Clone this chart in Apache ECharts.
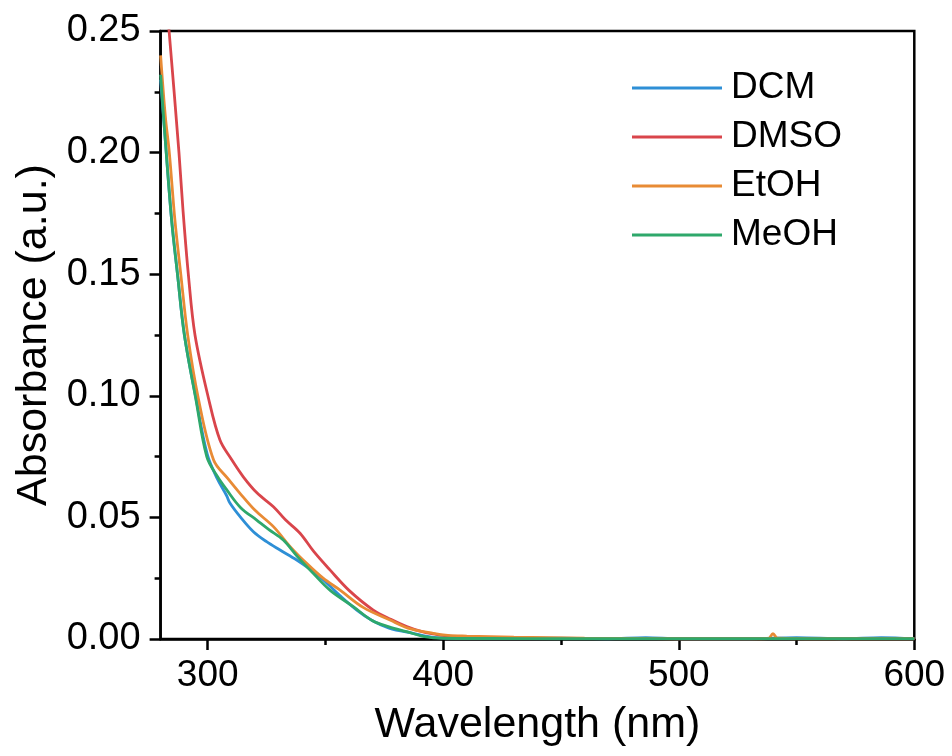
<!DOCTYPE html>
<html>
<head>
<meta charset="utf-8">
<script src="https://cdn.jsdelivr.net/npm/echarts@6/dist/echarts.min.js"></script>
<style>
html,body{margin:0;padding:0;background:#fff;}
#chart{width:952px;height:756px;}
</style>
</head>
<body>
<div id="chart"></div>
<script>
// ---- data ----
var seriesNames = ['DCM', 'DMSO', 'EtOH', 'MeOH'];

var dcmWl  = [280, 282, 284.7, 287.2, 290.1, 295, 299.8, 304, 308, 309.5, 314, 319.4, 325, 330.7, 337.8, 343, 349.1, 356, 363.3, 370, 377, 387.3, 395, 400, 410, 430, 450, 470, 486, 500, 530, 550, 570, 586, 600];
var dcmAbs = [0.230, 0.205, 0.172, 0.1497, 0.125, 0.099, 0.076, 0.066, 0.059, 0.0558, 0.050, 0.0441, 0.040, 0.0366, 0.0325, 0.029, 0.0243, 0.018, 0.0119, 0.0075, 0.0045, 0.0023, 0.0008, 0.0004, 0.0002, 0.0002, 0.0004, 0.0001, 0.0006, 0.0001, 0.0001, 0.0006, 0.0001, 0.0006, 0.0001];

var dmsoWl  = [280, 283.6, 287.8, 289.5, 291.8, 294.6, 300.3, 305.2, 310, 315.1, 321, 327.9, 333, 339.2, 345, 351.9, 360, 370.3, 378, 384.5, 391, 398.6, 405, 415, 430, 460, 500, 600];
var dmsoAbs = [0.29, 0.25, 0.200, 0.1764, 0.1497, 0.125, 0.0991, 0.0818, 0.074, 0.0667, 0.060, 0.0544, 0.049, 0.0435, 0.036, 0.0284, 0.020, 0.0119, 0.008, 0.0051, 0.003, 0.0016, 0.0010, 0.0006, 0.0004, 0.0002, 0.0001, 0.0001];

var etohWl  = [280, 282, 283.7, 286.1, 288.6, 291.5, 296, 302.5, 308.5, 313.7, 320, 327.9, 335, 342, 349, 356.2, 366, 377.4, 385, 395.8, 402, 410, 420, 430, 445, 460, 480, 500, 530, 538, 540, 542, 560, 600];
var etohAbs = [0.240, 0.215, 0.200, 0.172, 0.1497, 0.125, 0.099, 0.0736, 0.066, 0.0599, 0.053, 0.0462, 0.038, 0.0311, 0.025, 0.0201, 0.013, 0.0078, 0.0045, 0.0023, 0.0015, 0.0012, 0.0010, 0.0008, 0.0006, 0.0003, 0.0002, 0.0001, 0.0001, 0.0002, 0.0022, 0.0003, 0.0001, 0.0001];

var meohWl  = [280, 282, 284.7, 287.2, 290.1, 294.9, 299.6, 304, 308.1, 314, 320.8, 326, 332.1, 338, 344.8, 352, 361.8, 370, 377, 384.5, 392, 400, 420, 450, 500, 600];
var meohAbs = [0.232, 0.205, 0.172, 0.1497, 0.125, 0.099, 0.075, 0.067, 0.0613, 0.054, 0.0489, 0.045, 0.0407, 0.034, 0.027, 0.020, 0.0133, 0.0075, 0.005, 0.003, 0.001, 0.0003, 0.0002, 0.0001, 0.0001, 0.0001];

var xMajorTicks = [300, 400, 500, 600];
var xMinorTicks = [300, 350, 400, 450, 500, 550, 600];

var colors = ['#2e8fd6', '#d9454b', '#e88b35', '#2ea86b'];

function pairs(w, a) { return w.map(function (v, i) { return [v, a[i]]; }); }

var FONT = '"Liberation Sans", Arial, sans-serif';

var chart = echarts.init(document.getElementById('chart'), null, { renderer: 'canvas' });

var lineSeries = [
  pairs(dcmWl, dcmAbs), pairs(dmsoWl, dmsoAbs), pairs(etohWl, etohAbs), pairs(meohWl, meohAbs)
].map(function (d, i) {
  return {
    name: seriesNames[i],
    type: 'line',
    data: d,
    showSymbol: false,
    symbol: 'none',
    smooth: 0.35,
    clip: true,
    lineStyle: { width: 2.8, color: colors[i] },
    itemStyle: { color: colors[i] }
  };
});

chart.setOption({
  animation: false,
  backgroundColor: '#ffffff',
  color: colors,
  grid: {
    left: 160.6, right: 37.7, top: 31, bottom: 117,
    containLabel: false,
    outerBoundsMode: 'none',
    show: true, borderColor: '#000', borderWidth: 2.5, backgroundColor: 'transparent'
  },
  legend: {
    orient: 'vertical',
    left: 632, top: 68,
    padding: 0,
    icon: 'rect',
    itemWidth: 90, itemHeight: 3,
    itemGap: 9,
    data: seriesNames,
    textStyle: { fontFamily: FONT, fontSize: 37, color: '#000', lineHeight: 40, padding: [0, 0, 0, 4] }
  },
  xAxis: [{
    type: 'value', min: 280, max: 600,
    name: 'Wavelength (nm)', nameLocation: 'middle', nameGap: 65,
    nameTextStyle: { fontFamily: FONT, fontSize: 43, color: '#000' },
    axisLine: { show: true, lineStyle: { color: '#000', width: 2.5 } },
    axisTick: { show: true, customValues: xMajorTicks, length: 11, lineStyle: { color: '#000', width: 2.5 } },
    axisLabel: { customValues: xMajorTicks, fontFamily: FONT, fontSize: 37, color: '#000', margin: 18 },
    splitLine: { show: false }
  }, {
    type: 'value', min: 280, max: 600, position: 'bottom', offset: 0,
    axisLine: { show: false },
    axisTick: { show: true, customValues: xMinorTicks, length: 6, lineStyle: { color: '#000', width: 2.5 } },
    axisLabel: { show: false },
    splitLine: { show: false }
  }],
  yAxis: {
    type: 'value', min: 0, max: 0.25, interval: 0.05,
    name: 'Absorbance (a.u.)', nameLocation: 'middle', nameGap: 104,
    nameTextStyle: { fontFamily: FONT, fontSize: 43, color: '#000' },
    axisLine: { show: true, lineStyle: { color: '#000', width: 2.5 } },
    axisTick: { show: true, length: 11, lineStyle: { color: '#000', width: 2.5 } },
    minorTick: { show: true, splitNumber: 2, length: 6, lineStyle: { color: '#000', width: 2.5 } },
    axisLabel: { fontFamily: FONT, fontSize: 38, color: '#000', margin: 20,
      formatter: function (v) { return v.toFixed(2); } },
    splitLine: { show: false },
    minorSplitLine: { show: false }
  },
  series: lineSeries
});
</script>
</body>
</html>
